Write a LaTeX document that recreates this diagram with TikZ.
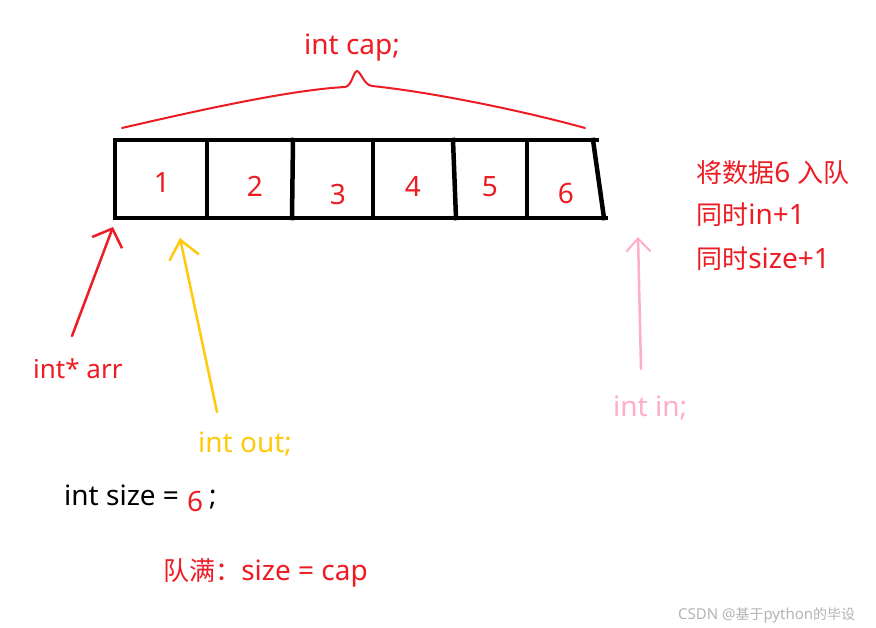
\documentclass[tikz,border=0pt]{standalone}
\usepackage{fontspec}
\setmainfont{Noto Sans}
\newfontfamily\cjk[Scale=0.93]{Noto Sans CJK SC}
\usetikzlibrary{arrows.meta}
\definecolor{pred}{HTML}{ED1C24}
\definecolor{pyellow}{HTML}{FFC90E}
\definecolor{ppink}{HTML}{FFAEC9}
\definecolor{wmgray}{HTML}{B4B4B4}
\tikzset{
  lbl/.style={inner sep=0pt, font=\fontsize{28}{32}\selectfont},
  lblsm/.style={inner sep=0pt, font=\fontsize{26}{30}\selectfont},
  boxline/.style={line width=4.5pt, line cap=rect, black},
  ptr/.style={line width=2.5pt, line cap=round}
}
\begin{document}
\begin{tikzpicture}[x=1pt,y=-1pt]
\useasboundingbox[fill=white] (0,0) rectangle (876,628);
% array box
\draw[boxline] (115,140) -- (597,140);
\draw[boxline] (115,218) -- (606,218);
\draw[boxline] (115,140) -- (115,218);
\draw[boxline] (207,140) -- (207,218);
\draw[boxline] (293,140) -- (292,218);
\draw[boxline] (373,140) -- (373,218);
\draw[boxline] (453,140) -- (456,218);
\draw[boxline] (527,140) -- (527,218);
\draw[boxline] (593,140) -- (604,218);
% cell values
\node[lbl,text=pred,anchor=base] (c1) at (162,193) {1};
\node[lbl,text=pred,anchor=base] (c2) at (255,197) {2};
\node[lbl,text=pred,anchor=base] (c3) at (338,205) {3};
\node[lbl,text=pred,anchor=base] (c4) at (413,197) {4};
\node[lbl,text=pred,anchor=base] (c5) at (490,197) {5};
\node[lbl,text=pred,anchor=base] (c6) at (566,204) {6};
% brace
\draw[pred, line width=2pt, line cap=round, line join=round]
  (122,128) .. controls (200,110) and (290,90) .. (345,87)
  .. controls (352,86) and (353,72) .. (357,71)
  .. controls (361,72) and (364,85) .. (372,86)
  .. controls (430,92) and (520,110) .. (585,128);
\node[lbl,text=pred,anchor=base] (cap) at (352,55) {int cap;};
% labels
\node[lblsm,text=pred,anchor=base west] (arr) at (33,379) {int* arr};
\node[lbl,text=pyellow,anchor=base west] (out) at (198,452) {int out;};
\node[lbl,text=ppink,anchor=base west] (in) at (613,417) {int in;};
\node[lbl,text=pred,anchor=base west] (t1) at (696,183) {{\cjk 将数据}6 {\cjk 入队}};
\node[lbl,text=pred,anchor=base west] (t2) at (696,225) {{\cjk 同时}in+1};
\node[lbl,text=pred,anchor=base west] (t3) at (696,269) {{\cjk 同时}size+1};
\node[lbl,text=black,anchor=base west] (sz) at (64,505) {int size =};
\node[lbl,text=pred,anchor=base west] (sz6) at (187,511) {6};
\node[lbl,text=black,anchor=base west] (szs) at (209,505) {;};
\node[lbl,text=pred,anchor=base west] (full) at (163,580) {{\cjk 队满：}size = cap};
\node[inner sep=0pt,anchor=base west,text=wmgray,font=\fontsize{15}{18}\selectfont] (wm) at (678,619) {CSDN @{\cjk 基于}python{\cjk 的毕设}};
% pointers
\coordinate (arrT) at (72,336);
\coordinate (arrH) at (113,227);
\coordinate (outT) at (217,412);
\coordinate (outH) at (180,238);
\coordinate (inT) at (641,369);
\coordinate (inH) at (638,237);
\draw[ptr,pred,-{Straight Barb[length=15pt,width=32pt,line width=2.5pt]}] (arrT) -- (arrH);
\draw[ptr,pyellow,-{Straight Barb[length=18pt,width=30pt,line width=2.5pt]}] (outT) -- (outH);
\draw[ptr,ppink,-{Straight Barb[length=13pt,width=24pt,line width=2pt]}] (inT) -- (inH);
\end{tikzpicture}
\end{document}
